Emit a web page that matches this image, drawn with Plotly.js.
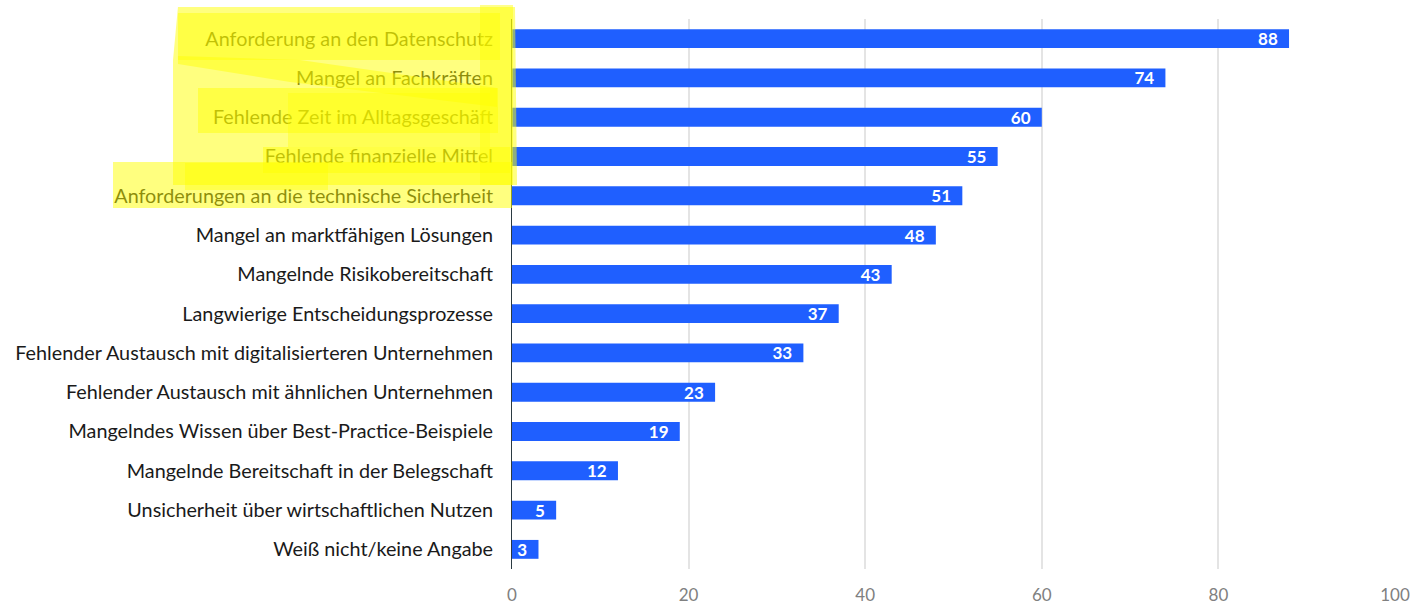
<!DOCTYPE html>
<html>
<head>
<meta charset="utf-8">
<script src="https://cdn.plot.ly/plotly-3.0.1.min.js"></script>
<style>html,body{margin:0;padding:0;background:#fff;}#chart{width:1418px;height:604px;}</style>
</head>
<body>
<div id="chart"></div>
<script>
const categories = [
  "Anforderung an den Datenschutz",
  "Mangel an Fachkräften",
  "Fehlende Zeit im Alltagsgeschäft",
  "Fehlende finanzielle Mittel",
  "Anforderungen an die technische Sicherheit",
  "Mangel an marktfähigen Lösungen",
  "Mangelnde Risikobereitschaft",
  "Langwierige Entscheidungsprozesse",
  "Fehlender Austausch mit digitalisierteren Unternehmen",
  "Fehlender Austausch mit ähnlichen Unternehmen",
  "Mangelndes Wissen über Best-Practice-Beispiele",
  "Mangelnde Bereitschaft in der Belegschaft",
  "Unsicherheit über wirtschaftlichen Nutzen",
  "Weiß nicht/keine Angabe"
];
const values = [88, 74, 60, 55, 51, 48, 43, 37, 33, 23, 19, 12, 5, 3];
const xTicks = [0, 20, 40, 60, 80, 100];

// Plot area in pixels (used only to place the hand-drawn highlighter decoration)
const M = {l: 512, r: 23, t: 19, b: 35};
const W = 1418, H = 604;
const pw = W - M.l - M.r, ph = H - M.t - M.b;
const px = x => (x - M.l) / pw;
const py = y => (H - M.b - y) / ph;
function box(x0, y0, x1, y1, op) {
  return {type: 'rect', xref: 'paper', yref: 'paper', layer: 'above',
    x0: px(x0), x1: px(x1), y0: py(y1), y1: py(y0),
    fillcolor: 'rgba(255,255,0,' + op + ')', line: {width: 0}};
}
function poly(pts, op) {
  const d = pts.map((p, i) => (i ? 'L' : 'M') + px(p[0]).toFixed(4) + ',' + py(p[1]).toFixed(4)).join(' ') + ' Z';
  return {type: 'path', xref: 'paper', yref: 'paper', layer: 'above', path: d,
    fillcolor: 'rgba(255,255,0,' + op + ')', line: {width: 0}};
}
const highlight = [
  poly([[178, 7], [515, 7], [517, 185], [173, 185], [173, 60]], 0.5),
  box(113, 162, 512, 208, 0.5),
  box(178, 13, 500, 60, 0.45),
  poly([[178, 56], [300, 60], [497, 88], [497, 107], [290, 82], [178, 64]], 0.45),
  box(480, 5, 513, 185, 0.45),
  box(198, 88, 498, 133, 0.45),
  box(288, 93, 490, 147, 0.35),
  box(263, 147, 510, 173, 0.45),
  box(185, 163, 328, 190, 0.4)
];

const trace = {
  type: 'bar', orientation: 'h',
  y: categories, x: values,
  marker: {color: '#1f5fff'},
  width: 0.48,
  texttemplate: '%{x}\u00a0\u00a0',
  textposition: 'inside', insidetextanchor: 'end', textangle: 0,
  textfont: {color: '#ffffff', size: 17, family: 'Lato, sans-serif', weight: 'bold'},
  constraintext: 'none',
  hoverinfo: 'skip'
};

const layout = {
  width: W, height: H,
  margin: M,
  paper_bgcolor: '#ffffff', plot_bgcolor: '#ffffff',
  showlegend: false,
  bargap: 0.52,
  font: {family: 'Lato, sans-serif'},
  xaxis: {
    range: [0, 100], tickvals: xTicks, ticktext: xTicks.map(String),
    showgrid: true, gridcolor: '#e4e4e4', gridwidth: 2,
    zeroline: false, showline: false, ticks: '', automargin: false,
    tickfont: {size: 17, color: '#808080'}, ticklabelstandoff: 14
  },
  yaxis: {
    autorange: 'reversed', type: 'category', automargin: false,
    showline: true, linecolor: '#2b3a42', linewidth: 1,
    ticks: '', showgrid: false,
    tickfont: {size: 19.8, color: '#1a1a1a'}, ticklabelstandoff: 14
  },
  shapes: highlight
};
Plotly.newPlot('chart', [trace], layout, {displayModeBar: false, staticPlot: true});
</script>
</body>
</html>
